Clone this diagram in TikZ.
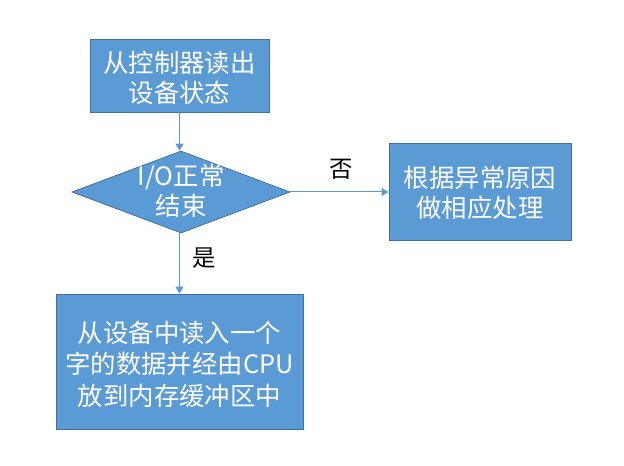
\documentclass[tikz,border=0pt]{standalone}
\usepackage{fontspec}
\setmainfont{Noto Sans CJK SC}
\usetikzlibrary{shapes.geometric,arrows.meta}
\definecolor{boxfill}{HTML}{5B9BD5}
\definecolor{boxedge}{HTML}{41719C}
\definecolor{linec}{HTML}{5B9BD5}
\tikzset{
  procbox/.style={draw=boxedge, line width=0.8bp, fill=boxfill, inner sep=0},
  decbox/.style={diamond, draw=boxedge, line width=0.8bp, fill=boxfill, inner sep=0},
  boxtext/.style={text=white, align=center, font=\fontsize{25.5}{30}\selectfont, inner sep=0},
  lbl/.style={text=black, font=\fontsize{23.5}{26}\selectfont, inner sep=0},
  conn/.style={draw=linec, line width=1bp, -{Triangle[width=8bp,length=7bp]}}
}
\begin{document}
\begin{tikzpicture}[x=1bp,y=-1bp]
\useasboundingbox (0,0) rectangle (624,466);
\node[procbox, minimum width=179bp, minimum height=73bp] (b1) at (179.5,75.5) {};
\node[boxtext] (t1) at (179.5,77.5) {从控制器读出\\设备状态};
\node[decbox, minimum width=218bp, minimum height=82bp] (d) at (181,192) {};
\node[boxtext] (td) at (181,191) {I/O正常\\结束};
\node[procbox, minimum width=182bp, minimum height=97bp] (b2) at (480,191.5) {};
\node[boxtext] (t2) at (480,193) {根据异常原因\\做相应处理};
\node[procbox, minimum width=247bp, minimum height=135bp] (b3) at (179.5,361.5) {};
\node[boxtext, font=\fontsize{25.5}{31.5}\selectfont] (t3) at (179.5,364) {从设备中读入一个\\字的数据并经由CPU\\放到内存缓冲区中};
\draw[conn] (b1.south) -- (b1.south |- d.north);
\draw[conn] (d.south -| b3.north) -- (b3.north);
\draw[conn] (d.east) -- (b2.west |- d.east);
\node[lbl] (no) at (341,169) {否};
\node[lbl] (yes) at (204,258) {是};
\end{tikzpicture}
\end{document}
